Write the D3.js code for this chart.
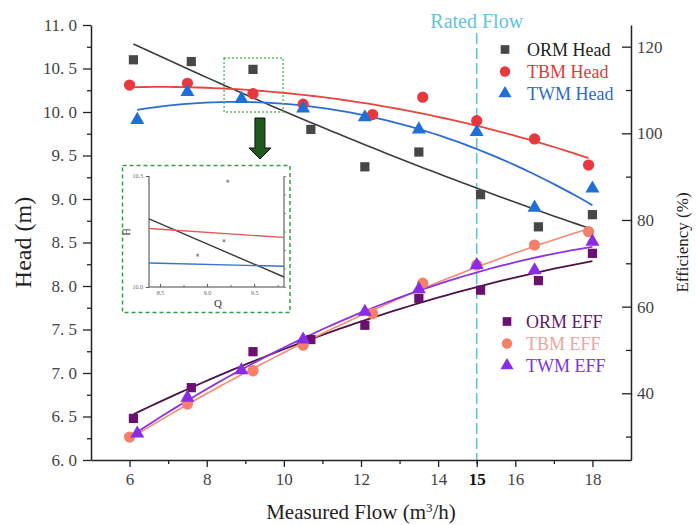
<!DOCTYPE html>
<html>
<head>
<meta charset="utf-8">
<script src="https://cdn.jsdelivr.net/npm/d3@7"></script>
<style>
  body { margin: 0; background: #fff; }
  text { font-family: "Liberation Serif", "Times New Roman", serif; }
</style>
</head>
<body>
<svg id="chart" width="697" height="525"></svg>
<script>
// Measured flow rate (m3/h) for each measuring method
const flowORM = [6.1, 7.6, 9.2, 10.7, 12.1, 13.5, 15.1, 16.6, 18.0];
const flowTBM = [6.0, 7.5, 9.2, 10.5, 12.3, 13.6, 15.0, 16.5, 17.9];
const flowTWM = [6.2, 7.5, 8.9, 10.5, 12.1, 13.5, 15.0, 16.5, 18.0];

// Head (m)
const headORM = [10.60, 10.58, 10.49, 9.80, 9.37, 9.54, 9.05, 8.68, 8.82];
const headTBM = [10.31, 10.33, 10.21, 10.09, 9.97, 10.17, 9.90, 9.69, 9.39];
const headTWM = [9.91, 10.23, 10.15, 10.04, 9.94, 9.80, 9.77, 8.90, 9.12];

// Efficiency (%)
const effORM = [34.2, 41.3, 49.6, 52.4, 55.7, 61.9, 63.8, 66.0, 72.3];
const effTBM = [29.9, 37.5, 45.2, 51.1, 58.4, 65.4, 69.6, 74.2, 77.3];
const effTWM = [30.7, 39.0, 45.3, 52.4, 58.8, 64.0, 69.6, 68.4, 75.0];

// Rated operating point
const ratedFlow = 15;

// Axis ticks
const flowTicks = [6, 8, 10, 12, 14, 15, 16, 18];
const flowMinorTicks = [7, 9, 11, 13, 15, 17];
const headTicks = [6, 6.5, 7, 7.5, 8, 8.5, 9, 9.5, 10, 10.5, 11];
const headMinorTicks = [6.25, 6.75, 7.25, 7.75, 8.25, 8.75, 9.25, 9.75, 10.25, 10.75];
const effTicks = [40, 60, 80, 100, 120];
const effMinorTicks = [30, 50, 70, 90, 110];

// Detail view around the crossing of the head curves
const insetQ = [8.384, 9.816];
const insetHeadORM = [10.184, 10.027];
const insetHeadTBM = [10.158, 10.134];
const insetHeadTWM = [10.065, 10.056];
const insetPointQ = [9.22, 9.18, 8.90];
const insetPointH = [10.286, 10.125, 10.086];
const insetQTicks = [8.5, 9.0, 9.5];
const insetQMinor = [8.75, 9.25, 9.75];
const insetHTicks = [10.0, 10.3];

const colors = {
  ormHead: "#474747", ormHeadLine: "#3c3c3c",
  tbmHead: "#e8383d", tbmHeadLine: "#e8453f",
  twmHead: "#1f6fd8", twmHeadLine: "#2c6dd2",
  ormEff: "#6b0f70", ormEffLine: "#4a1446",
  tbmEff: "#f4806b", tbmEffLine: "#f48a70",
  twmEff: "#8a2be6", twmEffLine: "#8d32e2",
  rated: "#62c3dc", green: "#33a046", arrow: "#1f5a1c"
};

const svg = d3.select("#chart");
const x = d3.scaleLinear([5, 19], [91, 631]);
const yH = d3.scaleLinear([6, 11], [460, 25]);
const yE = d3.scaleLinear([24.6, 125], [460, 25]);

// Least-squares quadratic used for the trend curves
function quadFit(xs, ys) {
  const m = d3.mean(xs);
  const S = [0, 0, 0, 0, 0], T = [0, 0, 0];
  xs.forEach((xv, i) => {
    const u = xv - m;
    for (let k = 0; k < 5; k++) S[k] += Math.pow(u, k);
    for (let k = 0; k < 3; k++) T[k] += Math.pow(u, k) * ys[i];
  });
  const A = [[S[0], S[1], S[2], T[0]], [S[1], S[2], S[3], T[1]], [S[2], S[3], S[4], T[2]]];
  for (let c = 0; c < 3; c++) {
    for (let r = c + 1; r < 3; r++) {
      const f = A[r][c] / A[c][c];
      for (let k = c; k < 4; k++) A[r][k] -= f * A[c][k];
    }
  }
  const b = [0, 0, 0];
  for (let r = 2; r >= 0; r--) {
    let s = A[r][3];
    for (let k = r + 1; k < 3; k++) s -= A[r][k] * b[k];
    b[r] = s / A[r][r];
  }
  return v => b[0] + b[1] * (v - m) + b[2] * (v - m) * (v - m);
}

function fitCurve(xs, ys) {
  const f = quadFit(xs, ys);
  const x0 = d3.min(xs), x1 = d3.max(xs);
  return d3.range(61).map(i => {
    const v = x0 + (x1 - x0) * i / 60;
    return [v, f(v)];
  });
}

// Rated flow marker line
svg.append("line")
  .attr("x1", x(ratedFlow)).attr("x2", x(ratedFlow))
  .attr("y1", 33).attr("y2", yH(6))
  .attr("stroke", colors.rated).attr("stroke-width", 1.6)
  .attr("stroke-dasharray", "11,4");
svg.append("text")
  .attr("x", x(ratedFlow)).attr("y", 28)
  .attr("text-anchor", "middle").attr("font-size", 20)
  .attr("fill", colors.rated).text("Rated Flow");

// Axes
function styleAxis(g) {
  g.select(".domain").attr("stroke", "#222").attr("stroke-width", 1.5);
  g.selectAll(".tick line").attr("stroke", "#222").attr("stroke-width", 1.3);
  g.selectAll(".tick text").attr("fill", "#444").attr("font-size", 17)
    .attr("font-family", "Liberation Serif, serif");
}

const gx = svg.append("g").attr("transform", `translate(0,${yH(6)})`)
  .call(d3.axisBottom(x).tickValues(flowTicks).tickSizeInner(7).tickSizeOuter(0).tickPadding(6)
    .tickFormat(d3.format("d")));
styleAxis(gx);
gx.selectAll(".tick text").filter(d => d === ratedFlow)
  .attr("font-weight", "bold").attr("fill", "#111");
svg.append("g").attr("transform", `translate(0,${yH(6)})`)
  .call(d3.axisBottom(x).tickValues(flowMinorTicks).tickSize(4).tickFormat(""))
  .call(g => { g.select(".domain").remove(); g.selectAll("line").attr("stroke", "#222").attr("stroke-width", 1.3); });

const gl = svg.append("g").attr("transform", `translate(${x(5)},0)`)
  .call(d3.axisLeft(yH).tickValues(headTicks).tickSizeInner(8).tickSizeOuter(0).tickPadding(6)
    .tickFormat(d => d3.format(".1f")(d).replace(".", ". ")));
styleAxis(gl);
svg.append("g").attr("transform", `translate(${x(5)},0)`)
  .call(d3.axisLeft(yH).tickValues(headMinorTicks).tickSize(4).tickFormat(""))
  .call(g => { g.select(".domain").remove(); g.selectAll("line").attr("stroke", "#222").attr("stroke-width", 1.3); });

const gr = svg.append("g").attr("transform", `translate(${x(19)},0)`)
  .call(d3.axisRight(yE).tickValues(effTicks).tickSizeInner(-9).tickSizeOuter(0).tickPadding(6)
    .tickFormat(d3.format("d")));
styleAxis(gr);
svg.append("g").attr("transform", `translate(${x(19)},0)`)
  .call(d3.axisRight(yE).tickValues(effMinorTicks).tickSize(-5).tickFormat(""))
  .call(g => { g.select(".domain").remove(); g.selectAll("line").attr("stroke", "#222").attr("stroke-width", 1.3); });

// Axis titles
svg.append("text").attr("transform", `translate(31,${(yH(6) + yH(11)) / 2}) rotate(-90)`)
  .attr("text-anchor", "middle").attr("font-size", 24).attr("fill", "#222").text("Head (m)");
svg.append("text").attr("transform", `translate(688,${(yH(6) + yH(11)) / 2}) rotate(-90)`)
  .attr("text-anchor", "middle").attr("font-size", 17).attr("fill", "#222").text("Efficiency (%)");
const xt = svg.append("text").attr("x", (x(5) + x(19)) / 2).attr("y", 519)
  .attr("text-anchor", "middle").attr("font-size", 21).attr("fill", "#222");
xt.append("tspan").text("Measured Flow (m");
xt.append("tspan").attr("baseline-shift", "super").attr("font-size", 13).text("3");
xt.append("tspan").text("/h)");

// Trend curves
const lineH = d3.line().x(d => x(d[0])).y(d => yH(d[1]));
const lineE = d3.line().x(d => x(d[0])).y(d => yE(d[1]));

const series = [
  { flow: flowORM, vals: effORM, line: lineE, y: yE, sym: d3.symbolSquare, size: 85, fill: colors.ormEff, stroke: colors.ormEffLine, w: 1.8 },
  { flow: flowTBM, vals: effTBM, line: lineE, y: yE, sym: d3.symbolCircle, size: 100, fill: colors.tbmEff, stroke: colors.tbmEffLine, w: 1.6 },
  { flow: flowTWM, vals: effTWM, line: lineE, y: yE, sym: d3.symbolTriangle, size: 85, fill: colors.twmEff, stroke: colors.twmEffLine, w: 1.8 },
  { flow: flowORM, vals: headORM, line: lineH, y: yH, sym: d3.symbolSquare, size: 85, fill: colors.ormHead, stroke: colors.ormHeadLine, w: 1.6 },
  { flow: flowTBM, vals: headTBM, line: lineH, y: yH, sym: d3.symbolCircle, size: 100, fill: colors.tbmHead, stroke: colors.tbmHeadLine, w: 1.8 },
  { flow: flowTWM, vals: headTWM, line: lineH, y: yH, sym: d3.symbolTriangle, size: 85, fill: colors.twmHead, stroke: colors.twmHeadLine, w: 1.8 }
];

series.forEach(s => {
  svg.append("path").attr("d", s.line(fitCurve(s.flow, s.vals)))
    .attr("fill", "none").attr("stroke", s.stroke).attr("stroke-width", s.w);
});
series.forEach(s => {
  svg.append("g").selectAll("path").data(s.vals).join("path")
    .attr("transform", (d, i) => `translate(${x(s.flow[i])},${s.y(d)})`)
    .attr("d", d3.symbol().type(s.sym).size(s.size))
    .attr("fill", s.fill);
});

// Legends
const legendHead = [
  { label: "ORM Head", sym: d3.symbolSquare, fill: colors.ormHead, text: "#222" },
  { label: "TBM Head", sym: d3.symbolCircle, fill: colors.tbmHead, text: "#e0393c" },
  { label: "TWM Head", sym: d3.symbolTriangle, fill: colors.twmHead, text: "#2d6cc0" }
];
const legendEff = [
  { label: "ORM EFF", sym: d3.symbolSquare, fill: colors.ormEff, text: "#5c1a68" },
  { label: "TBM EFF", sym: d3.symbolCircle, fill: colors.tbmEff, text: "#f2a2a0" },
  { label: "TWM EFF", sym: d3.symbolTriangle, fill: colors.twmEff, text: "#7a36e2" }
];
function drawLegend(items, lx, ly, tx) {
  const g = svg.append("g");
  items.forEach((it, i) => {
    const cy = ly + i * 22;
    g.append("path").attr("transform", `translate(${lx},${cy})`)
      .attr("d", d3.symbol().type(it.sym).size(it.sym === d3.symbolCircle ? 85 : 75)).attr("fill", it.fill);
    g.append("text").attr("x", tx).attr("y", cy + 6).attr("font-size", 18)
      .attr("fill", it.text).text(it.label);
  });
}
drawLegend(legendHead, 505, 49.5, 527);
drawLegend(legendEff, 507, 321.5, 526);

// Highlight box around the crossing and pointer to the detail view
svg.append("rect")
  .attr("x", x(8.45)).attr("y", yH(10.62))
  .attr("width", x(9.98) - x(8.45)).attr("height", yH(10.0) - yH(10.62))
  .attr("fill", "none").attr("stroke", "#5cb860").attr("stroke-width", 1.4)
  .attr("stroke-dasharray", "2,2");

const ax = x(9.38);
svg.append("path")
  .attr("d", `M${ax - 5},118 L${ax + 5},118 L${ax + 5},148 L${ax + 11},148 L${ax},159 L${ax - 11},148 L${ax - 5},148 Z`)
  .attr("fill", colors.arrow).attr("stroke", "#111").attr("stroke-width", 1);

// Detail view
const ib = { x0: 122.5, y0: 165.5, x1: 290, y1: 312.5 };
svg.append("rect").attr("x", ib.x0).attr("y", ib.y0)
  .attr("width", ib.x1 - ib.x0).attr("height", ib.y1 - ib.y0)
  .attr("fill", "#fff").attr("stroke", colors.green).attr("stroke-width", 1.5)
  .attr("stroke-dasharray", "4,3");

const ix = d3.scaleLinear(insetQ, [149, 284]);
const iy = d3.scaleLinear([10.0, 10.3], [287, 176]);
const inset = svg.append("g");
inset.append("path").attr("d", `M149,176 V287 H284 V176`)
  .attr("fill", "none").attr("stroke", "#444").attr("stroke-width", 1);
inset.append("g").attr("transform", "translate(0,287)")
  .call(d3.axisBottom(ix).tickValues(insetQTicks).tickSizeInner(-3).tickSizeOuter(0).tickPadding(4)
    .tickFormat(d3.format(".1f")))
  .call(g => { g.select(".domain").remove(); g.selectAll("line").attr("stroke", "#555");
    g.selectAll("text").attr("font-size", 6).attr("fill", "#666"); });
inset.append("g").attr("transform", "translate(0,287)")
  .call(d3.axisBottom(ix).tickValues(insetQMinor).tickSize(-2).tickFormat(""))
  .call(g => { g.select(".domain").remove(); g.selectAll("line").attr("stroke", "#777"); });
inset.append("g").attr("transform", "translate(149,0)")
  .call(d3.axisLeft(iy).tickValues(insetHTicks).tickSizeInner(3).tickSizeOuter(0).tickPadding(3)
    .tickFormat(d3.format(".1f")))
  .call(g => { g.select(".domain").remove(); g.selectAll("line").attr("stroke", "#555");
    g.selectAll("text").attr("font-size", 6).attr("fill", "#666"); });
inset.append("g").attr("transform", "translate(284,0)")
  .call(d3.axisRight(iy).ticks(5).tickSize(2).tickFormat(""))
  .call(g => { g.select(".domain").remove(); g.selectAll("line").attr("stroke", "#888"); });
inset.append("text").attr("transform", "translate(130,232) rotate(-90)")
  .attr("text-anchor", "middle").attr("font-size", 10).attr("fill", "#333").text("H");
inset.append("text").attr("x", 218).attr("y", 307)
  .attr("text-anchor", "middle").attr("font-size", 11).attr("fill", "#333").text("Q");

const iLine = d3.line().x((d, i) => ix(insetQ[i])).y(d => iy(d));
[[insetHeadORM, "#3a3a3a"], [insetHeadTBM, "#e05a5a"], [insetHeadTWM, "#3a72cc"]].forEach(([vals, c]) => {
  inset.append("path").attr("d", iLine(vals)).attr("fill", "none")
    .attr("stroke", c).attr("stroke-width", 1.4);
});
inset.append("g").selectAll("path").data(insetPointH).join("path")
  .attr("transform", (d, i) => `translate(${ix(insetPointQ[i])},${iy(d)})`)
  .attr("d", d3.symbol().type(d3.symbolAsterisk).size(8))
  .attr("stroke", "#777").attr("stroke-width", 0.8).attr("fill", "none");
</script>
</body>
</html>
